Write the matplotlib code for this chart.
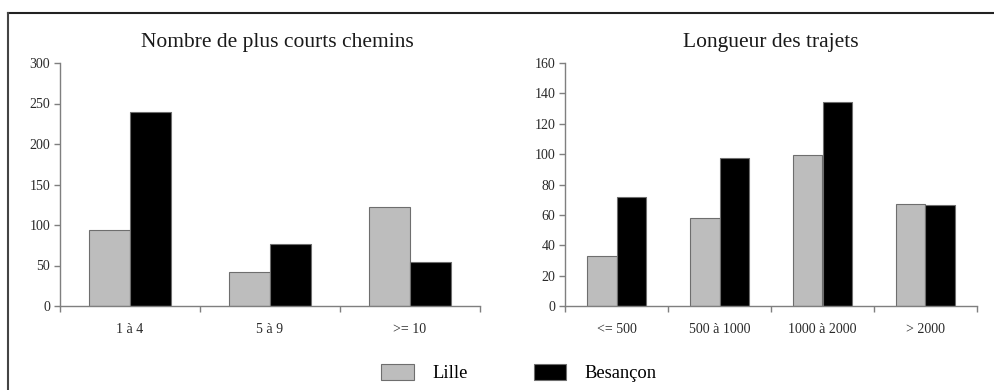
import numpy as np
import matplotlib.pyplot as plt
from matplotlib.patches import Patch
from matplotlib.lines import Line2D

plt.rcParams['font.family'] = ['Liberation Serif', 'DejaVu Serif']

# --- data ---
cats_chemins = ['1 à 4', '5 à 9', '>= 10']
lille_chemins = [94, 42, 122]
besancon_chemins = [240, 76, 54]

cats_trajets = ['<= 500', '500 à 1000', '1000 à 2000', '> 2000']
lille_trajets = [33, 58, 99.5, 67]
besancon_trajets = [71.5, 97.5, 134.5, 66.5]

series_names = ['Lille', 'Besançon']
col_lille = '#bdbdbd'
col_bes = '#000000'
axis_col = '#7f7f7f'

W, H = 995, 390
fig = plt.figure(figsize=(W / 100, H / 100), dpi=100)


def px_axes(x0, x1, ytop, ybot):
    return fig.add_axes([x0 / W, (H - ybot) / H, (x1 - x0) / W, (ybot - ytop) / H])


def draw(ax, cats, lille, bes, ymax, ystep, title, xc):
    n = len(cats)
    x = np.arange(n) + 0.5
    bw = 0.29
    ax.bar(x - bw / 2, lille, bw, color=col_lille, edgecolor='#6e6e6e', linewidth=0.8)
    ax.bar(x + bw / 2, bes, bw, color=col_bes, edgecolor='#6e6e6e', linewidth=0.8)
    ax.set_xlim(0, n)
    ax.set_ylim(0, ymax)
    ax.set_yticks(np.arange(0, ymax + 1, ystep))
    ax.set_xticks(np.arange(n + 1))
    ax.set_xticklabels([])
    ax.set_xticks(x, minor=True)
    ax.set_xticklabels(cats, minor=True)
    ax.tick_params(axis='x', which='minor', length=0, pad=12, labelsize=10, colors='#2a2a2a')
    ax.tick_params(axis='x', which='major', length=4, color=axis_col, width=1)
    ax.tick_params(axis='y', length=4, color=axis_col, width=1, labelsize=10,
                   labelcolor='#2a2a2a', pad=3)
    for s in ['top', 'right']:
        ax.spines[s].set_visible(False)
    for s in ['left', 'bottom']:
        ax.spines[s].set_color(axis_col)
        ax.spines[s].set_linewidth(1)
    fig.text(xc / W, 1 - 42 / H, title, ha='center', va='center', fontsize=15.5, color='#1a1a1a')


ax1 = px_axes(60, 480, 63, 306)
draw(ax1, cats_chemins, lille_chemins, besancon_chemins, 300, 50,
     'Nombre de plus courts chemins', 277)

ax2 = px_axes(565, 977, 63, 306)
draw(ax2, cats_trajets, lille_trajets, besancon_trajets, 160, 20,
     'Longueur des trajets', 771)

# legend
handles = [Patch(facecolor=col_lille, edgecolor='#6e6e6e', linewidth=0.8),
           Patch(facecolor=col_bes, edgecolor='#6e6e6e', linewidth=0.8)]
fig.legend(handles, series_names, loc='center', bbox_to_anchor=(519 / W, 1 - 373 / H),
           ncol=2, frameon=False, fontsize=13.3, handlelength=1.75, handleheight=1.0,
           handletextpad=1.0, columnspacing=3.6)

# outer frame (top and left only)
fig.add_artist(Line2D([8 / W, 1], [1 - 13 / H, 1 - 13 / H], color='#222222', lw=1.5))
fig.add_artist(Line2D([8 / W, 8 / W], [0, 1 - 13 / H], color='#444444', lw=1.5))

fig.savefig('out.png', dpi=100, facecolor='white')
